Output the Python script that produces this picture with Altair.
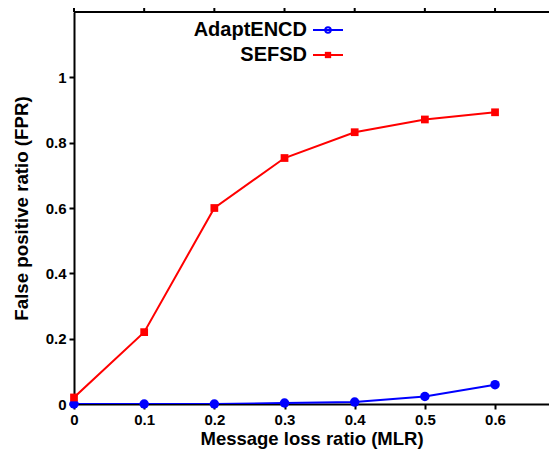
import altair as alt
import pandas as pd

mlr = [0.0, 0.1, 0.2, 0.3, 0.4, 0.5, 0.6]
adaptencd = [0.0, 0.0, 0.0, 0.003, 0.006, 0.023, 0.059]
sefsd = [0.02, 0.22, 0.60, 0.753, 0.832, 0.871, 0.893]
series_names = ["AdaptENCD", "SEFSD"]
colors = ["#0000ff", "#ff0000"]

x_ticks = [0, 0.1, 0.2, 0.3, 0.4, 0.5, 0.6]
y_ticks = [0, 0.2, 0.4, 0.6, 0.8, 1.0]

df = pd.DataFrame({
    "mlr": mlr * 2,
    "fpr": adaptencd + sefsd,
    "series": [series_names[0]] * len(mlr) + [series_names[1]] * len(mlr),
})
ticks_df = pd.DataFrame({"t": x_ticks})

FONT = "Liberation Sans"
W, H = 475, 392

xscale = alt.Scale(domain=[0, 0.6769], nice=False, zero=False)
yscale = alt.Scale(domain=[0, 1.2], nice=False)
cscale = alt.Scale(domain=series_names, range=colors)

xaxis = alt.Axis(values=x_ticks, format="~g", title="Message loss ratio (MLR)", grid=False,
                 domainColor="black", domainWidth=2, tickColor="black", tickWidth=2, tickSize=5,
                 labelFont=FONT, labelFontSize=15, labelFontWeight="bold", labelColor="black",
                 labelPadding=3, labelFlush=False,
                 titleFont=FONT, titleFontSize=18.5, titleFontWeight="bold", titleColor="black",
                 titlePadding=2)
yaxis = alt.Axis(values=y_ticks, format="~g", title="False positive ratio (FPR)", grid=False,
                 domainColor="black", domainWidth=2, tickColor="black", tickWidth=2, tickSize=5,
                 labelFont=FONT, labelFontSize=15, labelFontWeight="bold", labelColor="black",
                 labelPadding=3, labelFlush=False,
                 titleFont=FONT, titleFontSize=18.7, titleFontWeight="bold", titleColor="black",
                 titlePadding=14)

base = alt.Chart(df)

lines = base.mark_line(strokeWidth=2, clip=True).encode(
    x=alt.X("mlr:Q", scale=xscale, axis=xaxis),
    y=alt.Y("fpr:Q", scale=yscale, axis=yaxis),
    color=alt.Color("series:N", scale=cscale, legend=None),
    detail="series:N",
)

blue_pts = base.transform_filter(alt.datum.series == series_names[0]).mark_circle(
    size=90, opacity=1, color=colors[0]).encode(
    x=alt.X("mlr:Q", scale=xscale), y=alt.Y("fpr:Q", scale=yscale))

red_pts = base.transform_filter(alt.datum.series == series_names[1]).mark_square(
    size=60, opacity=1, color=colors[1]).encode(
    x=alt.X("mlr:Q", scale=xscale), y=alt.Y("fpr:Q", scale=yscale))

# top border with outward ticks
top_border = alt.Chart(ticks_df).mark_rule(color="black", strokeWidth=2).encode(
    x=alt.value(0), x2=alt.value(W + 10), y=alt.value(0))
top_ticks = alt.Chart(ticks_df).mark_rule(color="black", strokeWidth=2).encode(
    x=alt.X("t:Q", scale=xscale), y=alt.value(-5), y2=alt.value(0))

# legend (inside plot, top)
leg_y = [18, 43]
legend_layers = []
for i, name in enumerate(series_names):
    legend_layers.append(alt.Chart(pd.DataFrame({"t": [name]})).mark_text(
        align="right", baseline="middle", font=FONT, fontSize=20, fontWeight="bold", color="black"
    ).encode(text="t:N", x=alt.value(233), y=alt.value(leg_y[i])))
    legend_layers.append(alt.Chart(pd.DataFrame({"t": [name]})).mark_rule(
        color=colors[i], strokeWidth=2
    ).encode(x=alt.value(239), x2=alt.value(269), y=alt.value(leg_y[i])))
legend_layers.append(alt.Chart(pd.DataFrame({"t": [0]})).mark_point(
    shape="circle", size=30, filled=False, color=colors[0], strokeWidth=2, opacity=1
).encode(x=alt.value(254), y=alt.value(leg_y[0])))
legend_layers.append(alt.Chart(pd.DataFrame({"t": [0]})).mark_square(
    size=40, color=colors[1], opacity=1
).encode(x=alt.value(254), y=alt.value(leg_y[1])))

chart = alt.layer(lines, blue_pts, red_pts, top_border, top_ticks, *legend_layers).properties(
    width=W, height=H,
    autosize=alt.AutoSizeParams(type="none"),
    padding={"left": 66, "top": 4, "right": 0, "bottom": 46},
).configure_view(stroke=None).configure(background="white")

chart.save("out.html", embed_options={"renderer": "svg", "actions": False})
